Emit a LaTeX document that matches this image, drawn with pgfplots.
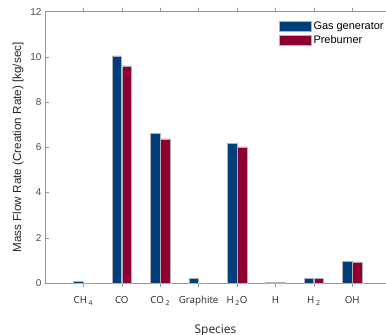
\documentclass[border=0pt]{standalone}
\usepackage{fontspec}
\setmainfont{Liberation Sans}
\newfontfamily\lblfont{Open Sans}
\usepackage{pgfplots}
\pgfplotsset{compat=1.18}
\usetikzlibrary{calc}
\definecolor{ggblue}{RGB}{0,62,126}
\definecolor{pbred}{RGB}{142,0,51}
\definecolor{axgray}{RGB}{150,150,150}
\begin{document}
\begin{tikzpicture}
\begin{axis}[
  name=ax,
  scale only axis,
  width=341bp, height=271.3bp,
  xmin=0, xmax=8.88,
  ymin=0, ymax=12,
  axis x line=box, axis y line=left,
  axis line style={axgray, line width=0.6pt, -},
  xtick={1,2,3,4,5,6,7,8},
  xticklabels={CH\,\textsubscript{4},CO,CO\,\textsubscript{2},Graphite,H\,\textsubscript{2}O,H,H\,\textsubscript{2},OH},
  xticklabel style={font=\lblfont\fontsize{9.8}{10}\selectfont, text=black!85, yshift=-6bp, text height=7bp, text depth=2bp},
  ytick={0,2,4,6,8,10,12},
  yticklabel style={font=\fontsize{10}{10}\selectfont, text=black!70},
  /pgf/number format/assume math mode=true,
  tick style={axgray, line width=0.5pt},
  tick align=inside,
  major tick length=4bp,
  ylabel={Mass Flow Rate (Creation Rate) [kg/sec]},
  ylabel style={font=\fontsize{11.7}{12}\selectfont, text=black!85, xshift=0bp},
  xlabel={Species},
  xlabel style={font=\lblfont\fontsize{12}{12}\selectfont, text=black!85, yshift=-12bp},
  ybar, bar width=9.5bp,
  legend style={draw=none, fill=none, at={(0.686,0.972)}, anchor=north west,
    inner sep=0pt, font=\fontsize{11}{11}\selectfont, row sep=0.5bp,
    cells={anchor=west}},
  legend image code/.code={\fill[#1] (0bp,-5bp) rectangle (32bp,5bp);},
]
\addplot[fill=ggblue, draw=gray!60, line width=0.4pt, bar shift=-5bp] coordinates {
 (1,0.08) (2,10.05) (3,6.61) (4,0.22) (5,6.18) (6,0.03) (7,0.22) (8,0.97)};
\addplot[fill=pbred, draw=gray!60, line width=0.4pt, bar shift=5bp] coordinates {
 (1,0.0) (2,9.60) (3,6.37) (4,0.0) (5,6.02) (6,0.03) (7,0.21) (8,0.93)};
\legend{Gas generator, Preburner}
\end{axis}
\pgfresetboundingbox
\useasboundingbox ($(ax.south west)+(-45bp,-52bp)$) rectangle ($(ax.north east)+(0bp,11.7bp)$);
\end{tikzpicture}
\end{document}
